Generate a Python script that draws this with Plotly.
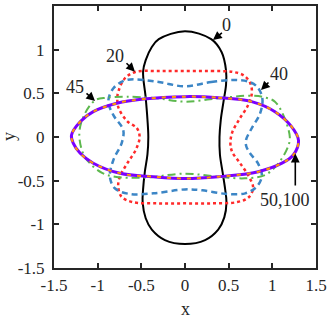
import plotly.graph_objects as go

# Contour at t = 0 (black solid)
x0 = [0.0, 0.3, 0.42, 0.47, 0.47, 0.44, 0.41, 0.395, 0.40, 0.43, 0.46, 0.475, 0.45, 0.38, 0.23,
      0.0, -0.23, -0.38, -0.45, -0.485, -0.48, -0.46, -0.43, -0.42, -0.43, -0.45, -0.48, -0.45, -0.38, -0.3, 0.0]
y0 = [1.21, 1.12, 0.97, 0.76, 0.6, 0.4, 0.2, 0.0, -0.2, -0.4, -0.6, -0.75, -0.92, -1.06, -1.18,
      -1.225, -1.18, -1.06, -0.93, -0.75, -0.6, -0.4, -0.2, 0.0, 0.2, 0.45, 0.75, 0.88, 1.03, 1.12, 1.21]

# Contour at t = 20 (red dotted)
x20 = [0.0, 0.3, 0.55, 0.68, 0.75, 0.765, 0.72, 0.62, 0.54, 0.52, 0.54, 0.63, 0.73, 0.78, 0.73, 0.6, 0.3,
       0.0, -0.3, -0.6, -0.73, -0.765, -0.74, -0.66, -0.56, -0.52, -0.55, -0.66, -0.76, -0.775, -0.76, -0.69, -0.57, -0.3, 0.0]
y20 = [0.755, 0.755, 0.745, 0.70, 0.61, 0.50, 0.36, 0.20, 0.05, -0.08, -0.17, -0.30, -0.45, -0.58, -0.69, -0.745, -0.76,
       -0.76, -0.76, -0.745, -0.68, -0.55, -0.44, -0.30, -0.14, 0.0, 0.1, 0.18, 0.33, 0.45, 0.53, 0.67, 0.745, 0.755, 0.755]

# Contour at t = 40 (blue dashed)
x40 = [0.0, 0.3, 0.57, 0.74, 0.83, 0.886, 0.86, 0.764, 0.70, 0.70, 0.74, 0.84, 0.88, 0.82, 0.69, 0.46, 0.2,
       0.0, -0.36, -0.63, -0.80, -0.86, -0.82, -0.725, -0.707, -0.82, -0.878, -0.82, -0.668, -0.324, 0.0]
y40 = [0.58, 0.63, 0.653, 0.63, 0.57, 0.443, 0.27, 0.10, -0.03, -0.1, -0.18, -0.31, -0.45, -0.57, -0.645, -0.65, -0.61,
       -0.60, -0.645, -0.653, -0.59, -0.455, -0.263, -0.07, 0.08, 0.25, 0.405, 0.558, 0.653, 0.633, 0.58]

# Contour at t = 45 (green dash-dot)
x45 = [0.0, 0.38, 0.764, 0.93, 1.03, 1.126, 1.20, 1.18, 1.07, 0.916, 0.687, 0.38,
       0.0, -0.477, -0.8, -0.95, -1.09, -1.17, -1.21, -1.16, -1.03, -0.897, -0.668, -0.324, 0.0]
y45 = [0.405, 0.443, 0.473, 0.45, 0.405, 0.25, 0.0, -0.11, -0.30, -0.435, -0.473, -0.455,
       -0.42, -0.466, -0.455, -0.41, -0.30, -0.18, 0.04, 0.24, 0.42, 0.45, 0.462, 0.443, 0.405]

# Contours at t = 50 (purple solid) and t = 100 (orange dashed) - coincide
x50 = [0.0, 0.38, 0.764, 1.03, 1.22, 1.30, 1.24, 1.11, 0.84, 0.38,
       0.0, -0.363, -0.745, -1.05, -1.20, -1.28, -1.30, -1.20, -1.05, -0.78, -0.477, 0.0]
y50 = [0.462, 0.45, 0.405, 0.29, 0.118, -0.04, -0.206, -0.30, -0.397, -0.455,
       -0.475, -0.455, -0.416, -0.30, -0.187, -0.07, 0.02, 0.175, 0.29, 0.386, 0.435, 0.462]
x100 = list(x50)
y100 = list(y50)

# Labels: text, text position, arrow tail, arrow head
labels = ["0", "20", "40", "45", "50,100"]
label_x = [0.47, -0.80, 1.08, -1.256, 1.14]
label_y = [1.28, 0.925, 0.725, 0.573, -0.72]
tail_x = [0.44, -0.687, 0.973, -1.145, 1.263]
tail_y = [1.205, 0.862, 0.641, 0.515, -0.573]
head_x = [0.32, -0.573, 0.87, -1.03, 1.263]
head_y = [1.11, 0.748, 0.538, 0.412, -0.19]

tick_vals = [-1.5, -1, -0.5, 0, 0.5, 1, 1.5]
tick_text = ["-1.5", "-1", "-0.5", "0", "0.5", "1", "1.5"]

SERIF = "Times New Roman, Liberation Serif, serif"
INK = "#262626"

fig = go.Figure()
fig.add_trace(go.Scatter(x=x0, y=y0, mode="lines", line=dict(color="black", width=2, shape="spline")))
fig.add_trace(go.Scatter(x=x20, y=y20, mode="lines", line=dict(color="#FF2A2A", width=2.5, dash="dot", shape="spline")))
fig.add_trace(go.Scatter(x=x40, y=y40, mode="lines", line=dict(color="#3C86C6", width=2.5, dash="6px,4px", shape="spline")))
fig.add_trace(go.Scatter(x=x45, y=y45, mode="lines", line=dict(color="#5DB84E", width=2, dash="8px,4px,2px,4px", shape="spline")))
fig.add_trace(go.Scatter(x=x50, y=y50, mode="lines", line=dict(color="#7B00FF", width=3, shape="spline")))
fig.add_trace(go.Scatter(x=x100, y=y100, mode="lines", line=dict(color="#FF9A00", width=2, dash="4px,6px", shape="spline")))

annotations = []
for t, lx, ly, txx, tyy, hx, hy in zip(labels, label_x, label_y, tail_x, tail_y, head_x, head_y):
    annotations.append(dict(x=hx, y=hy, ax=txx, ay=tyy, xref="x", yref="y", axref="x", ayref="y",
                            text="", showarrow=True, arrowhead=2, arrowsize=1.1, arrowwidth=1.6,
                            arrowcolor="black"))
    annotations.append(dict(x=lx, y=ly, xref="x", yref="y", text=t, showarrow=False,
                            font=dict(family=SERIF, size=18, color=INK)))

# axis titles as annotations for precise placement
annotations.append(dict(x=0.5, y=0, xref="paper", yref="paper", text="x", showarrow=False,
                        yanchor="middle", xanchor="center", yshift=-41,
                        font=dict(family=SERIF, size=18, color=INK)))
annotations.append(dict(x=0, y=0.5, xref="paper", yref="paper", text="y", showarrow=False,
                        yanchor="middle", xanchor="center", xshift=-45, textangle=-90,
                        font=dict(family=SERIF, size=18, color=INK)))

axis_common = dict(range=[-1.5, 1.5], tickvals=tick_vals, ticktext=tick_text, showline=True, mirror="ticks",
                   linecolor=INK, linewidth=2, ticks="inside", ticklen=5, tickwidth=1.5,
                   tickcolor=INK, showgrid=False, zeroline=False, automargin=False,
                   tickfont=dict(family=SERIF, size=17, color=INK))

fig.update_layout(
    width=327, height=319,
    margin=dict(l=54, r=11, t=6, b=51),
    paper_bgcolor="white", plot_bgcolor="white",
    showlegend=False,
    annotations=annotations,
    xaxis=dict(**axis_common, ticklabelstandoff=1),
    yaxis=dict(**axis_common, ticklabelstandoff=4),
)

fig.write_html("out.html", config={"displayModeBar": False},
               post_script="document.body.style.margin='0';document.body.style.padding='0';")
